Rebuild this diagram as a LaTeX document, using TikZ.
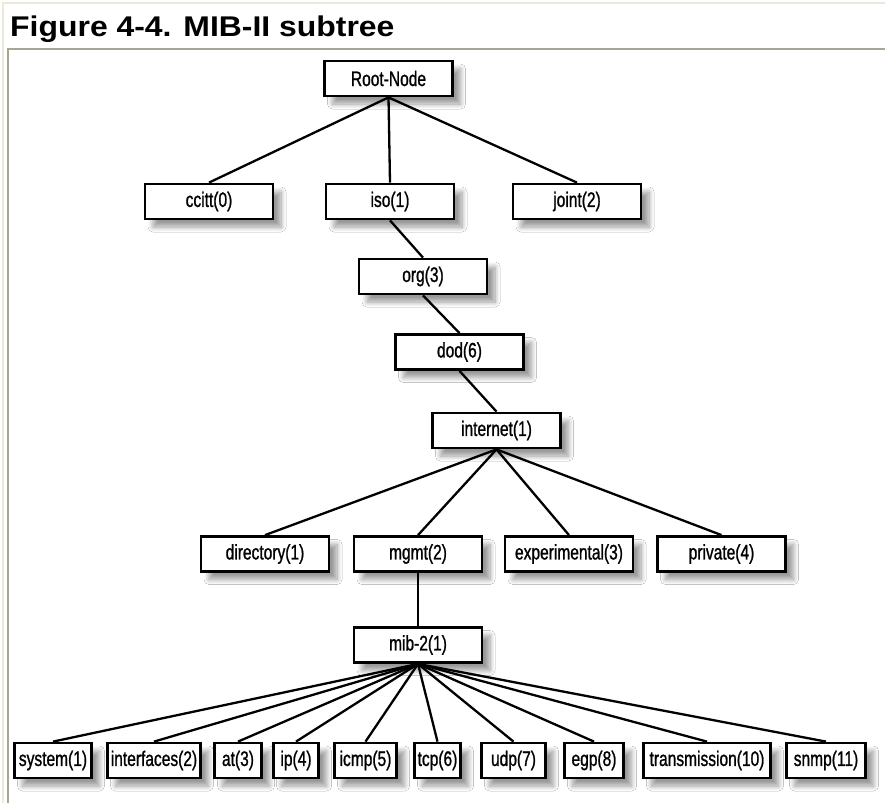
\documentclass[tikz,border=0pt]{standalone}
\usepackage{fontspec}
\setmainfont{Liberation Sans}
\newfontfamily\boxfont[FakeStretch=0.74, FakeBold=1]{Liberation Sans}
\newfontfamily\capfont[FakeStretch=1.12]{Liberation Sans}
\usetikzlibrary{shadows.blur}

\definecolor{pageedge}{HTML}{ECE9DA}
\definecolor{frameedge}{HTML}{A8A595}

\tikzset{
  treebox/.style={draw=black, line width=2.8pt, fill=white,
    minimum height=35pt, inner sep=0pt,
    font=\boxfont\fontsize{21}{21}\selectfont,
    blur shadow={shadow xshift=8pt, shadow yshift=-8pt,
      shadow blur steps=10, shadow blur radius=5pt, shadow opacity=40}},
  wide/.style={treebox, minimum width=128pt},
  link/.style={line width=2.3pt, draw=black},
}

\begin{document}
\begin{tikzpicture}[x=1pt,y=-1pt]
  \useasboundingbox (0,0) rectangle (885,803);
  \fill[white] (0,0) rectangle (885,803);

  % page and figure frame edges
  \draw[pageedge, line width=2pt] (2.5,803) -- (2.5,3) -- (885,3);
  \draw[frameedge, line width=2.5pt] (8,803) -- (8,49) -- (885,49);

  % caption
  \node[anchor=base west, inner sep=0pt, font=\capfont\bfseries\fontsize{28.5}{28.5}\selectfont]
    (caption) at (10,36) {Figure 4-4. MIB-II subtree};

  % tree nodes
  \node[wide] (root) at (388.5,78.5) {Root-Node};

  \node[wide] (ccitt) at (209,201.5) {ccitt(0)};
  \node[wide] (iso)   at (390,201.5) {iso(1)};
  \node[wide] (joint) at (577,201.5) {joint(2)};

  \node[wide] (org)      at (423,276.5) {org(3)};
  \node[wide] (dod)      at (459.5,352) {dod(6)};
  \node[wide] (internet) at (496.5,430.5) {internet(1)};

  \node[wide] (directory)    at (265,554) {directory(1)};
  \node[wide] (mgmt)         at (418,554) {mgmt(2)};
  \node[wide] (experimental) at (569,554) {experimental(3)};
  \node[wide] (private)      at (721.5,554) {private(4)};

  \node[wide] (mib) at (418,645) {mib-2(1)};

  \node[treebox, minimum width=77pt]  (system)       at (53,760.5)  {system(1)};
  \node[treebox, minimum width=93pt]  (interfaces)   at (154,760.5) {interfaces(2)};
  \node[treebox, minimum width=47pt]  (at)           at (238,760.5) {at(3)};
  \node[treebox, minimum width=45pt]  (ip)           at (296,760.5) {ip(4)};
  \node[treebox, minimum width=62pt]  (icmp)         at (365.5,760.5) {icmp(5)};
  \node[treebox, minimum width=46pt]  (tcp)          at (437.5,760.5) {tcp(6)};
  \node[treebox, minimum width=64pt]  (udp)          at (513.5,760.5) {udp(7)};
  \node[treebox, minimum width=59pt]  (egp)          at (594,760.5) {egp(8)};
  \node[treebox, minimum width=127pt] (transmission) at (707,760.5) {transmission(10)};
  \node[treebox, minimum width=79pt]  (snmp)         at (826,760.5) {snmp(11)};

  % branches
  \foreach \c in {ccitt, iso, joint} \draw[link] (root.south) -- (\c.north);
  \draw[link] (iso.south) -- (org.north);
  \draw[link] (org.south) -- (dod.north);
  \draw[link] (dod.south) -- (internet.north);
  \foreach \c in {directory, mgmt, experimental, private}
    \draw[link] (internet.south) -- (\c.north);
  \draw[link] (mgmt.south) -- (mib.north);
  \foreach \c in {system, interfaces, at, ip, icmp, tcp, udp, egp, transmission, snmp}
    \draw[link] (mib.south) -- (\c.north);
\end{tikzpicture}
\end{document}
